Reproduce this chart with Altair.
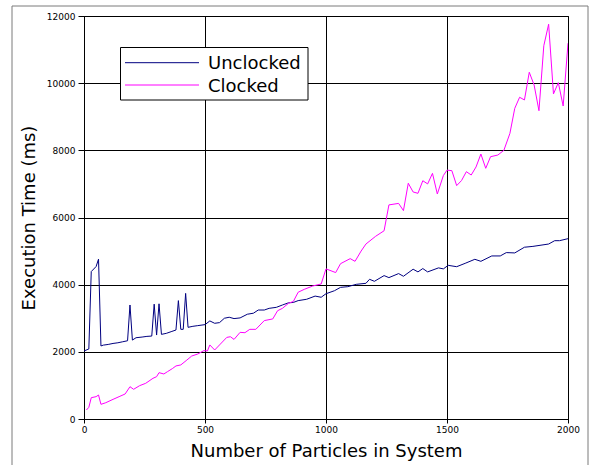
import altair as alt
import pandas as pd

SERIES = ["Unclocked", "Clocked"]
COLORS = ["#000080", "#ff00ff"]

X_TICKS = [0, 500, 1000, 1500, 2000]
Y_TICKS = [0, 2000, 4000, 6000, 8000, 10000, 12000]

unc_x = [0, 20, 30, 50, 60, 70, 80, 100, 120, 140,
         160, 180, 190, 200, 215, 240, 260, 280, 290, 300,
         310, 320, 340, 360, 380, 390, 400, 410, 420, 430,
         450, 470, 500, 520, 540, 560, 580, 600, 620, 645,
         675, 700, 720, 745, 765, 795, 820, 845, 865, 885,
         920, 955, 980, 1000, 1035, 1060, 1090, 1125, 1165, 1180,
         1200, 1240, 1260, 1300, 1320, 1360, 1380, 1400, 1420, 1465,
         1485, 1505, 1540, 1575, 1615, 1640, 1685, 1720, 1745, 1780,
         1820, 1855, 1920, 1945, 1965, 2000]
unc_y = [2025, 2085, 4390, 4540, 4760, 2175, 2200, 2220, 2250, 2270,
         2300, 2330, 3395, 2350, 2420, 2440, 2460, 2470, 3420, 2500,
         3430, 2520, 2550, 2600, 2650, 3525, 2670, 2670, 3740, 2730,
         2760, 2780, 2810, 2920, 2850, 2870, 3000, 3030, 2990, 3010,
         3120, 3150, 3245, 3245, 3295, 3325, 3395, 3460, 3470, 3525,
         3565, 3660, 3625, 3730, 3820, 3920, 3940, 4010, 4040, 4160,
         4100, 4270, 4210, 4330, 4250, 4460, 4380, 4480, 4380, 4500,
         4470, 4575, 4535, 4635, 4755, 4695, 4855, 4855, 4955, 4945,
         5115, 5140, 5210, 5310, 5310, 5370]

clk_x = [10, 20, 30, 50, 60, 70, 90, 120, 145, 170,
         190, 205, 230, 255, 285, 300, 310, 330, 345, 365,
         380, 400, 425, 445, 470, 495, 510, 520, 540, 560,
         590, 605, 620, 645, 665, 685, 710, 745, 780, 800,
         820, 845, 865, 885, 910, 945, 980, 1000, 1040, 1060,
         1100, 1120, 1145, 1165, 1205, 1240, 1260, 1300, 1320, 1340,
         1360, 1380, 1400, 1420, 1440, 1460, 1485, 1500, 1520, 1540,
         1560, 1580, 1600, 1620, 1640, 1660, 1680, 1710, 1735, 1760,
         1780, 1800, 1820, 1840, 1860, 1880, 1900, 1920, 1940, 1960,
         1980, 2000]
clk_y = [268, 348, 635, 665, 715, 437, 485, 585, 665, 745,
         962, 884, 993, 1063, 1212, 1260, 1380, 1340, 1410, 1500,
         1580, 1610, 1755, 1875, 1935, 2035, 2025, 2205, 2055, 2205,
         2430, 2450, 2370, 2580, 2570, 2670, 2670, 2930, 2980, 3225,
         3295, 3445, 3500, 3775, 3860, 3960, 4020, 4470, 4360, 4625,
         4775, 4695, 5000, 5210, 5440, 5605, 6375, 6420, 6205, 7020,
         6760, 6720, 7095, 7000, 7315, 6700, 7250, 7410, 7395, 6950,
         7100, 7365, 7265, 7505, 7890, 7465, 7810, 7860, 8000, 8505,
         9250, 9580, 9500, 10325, 9945, 9180, 11115, 11755, 9680, 10015,
         9320, 11190]

rows = [{"n": x, "t": y, "series": "Unclocked"} for x, y in zip(unc_x, unc_y)]
rows += [{"n": x, "t": y, "series": "Clocked"} for x, y in zip(clk_x, clk_y)]
df = pd.DataFrame(rows)

FONT = "DejaVu Sans"
one = pd.DataFrame({"a": [0]})

frame = alt.Chart(one).mark_rect(
    fill="transparent", stroke="#7a7a7a", strokeWidth=1
).encode(
    x=alt.value(-72), x2=alt.value(504), y=alt.value(-10), y2=alt.value(480)
)

lines = alt.Chart(df).mark_line(strokeWidth=1, clip=True).encode(
    x=alt.X("n:Q", scale=alt.Scale(domain=[0, 2000], nice=False),
            axis=alt.Axis(values=X_TICKS, title="Number of Particles in System",
                          format="d", tickSize=4, labelPadding=2, titlePadding=8,
                          labelFlush=False)),
    y=alt.Y("t:Q", scale=alt.Scale(domain=[0, 12000], nice=False),
            axis=alt.Axis(values=Y_TICKS, title="Execution Time (ms)",
                          format="d", tickSize=6, labelPadding=3, titlePadding=8,
                          labelFlush=False)),
    color=alt.Color("series:N", sort=SERIES,
                    scale=alt.Scale(domain=SERIES, range=COLORS), legend=None),
    detail="series:N",
)

# legend drawn by hand (box, line samples, labels)
legend_box = alt.Chart(one).mark_rect(
    fill="white", stroke="black", strokeWidth=1
).encode(x=alt.value(36.5), x2=alt.value(224), y=alt.value(31.5), y2=alt.value(84))

legend_layers = [legend_box]
for i, (name, col) in enumerate(zip(SERIES, COLORS)):
    ly = 46.7 + 22.3 * i
    legend_layers.append(
        alt.Chart(one).mark_rule(color=col, strokeWidth=1).encode(
            x=alt.value(41), x2=alt.value(115), y=alt.value(ly))
    )
    legend_layers.append(
        alt.Chart(one).mark_text(text=name, font=FONT, fontSize=18, color="black",
                                 align="left", baseline="alphabetic").encode(
            x=alt.value(124), y=alt.value(ly + 6.5))
    )

chart = alt.layer(frame, lines, *legend_layers).properties(
    width=484, height=403,
    padding={"left": 84, "top": 16, "right": 22, "bottom": 46},
    autosize=alt.AutoSizeParams(type="none"),
    background="white",
).configure_axis(
    labelFont=FONT, labelFontSize=9, labelColor="black",
    titleFont=FONT, titleFontSize=18, titleFontWeight="normal", titleColor="black",
    grid=True, gridColor="black", gridOpacity=1, gridWidth=1,
    tickColor="black", domainColor="black", domainWidth=1,
).configure_view(stroke="black", strokeWidth=1)

chart.save("out.html", embed_options={"renderer": "svg", "actions": False})
